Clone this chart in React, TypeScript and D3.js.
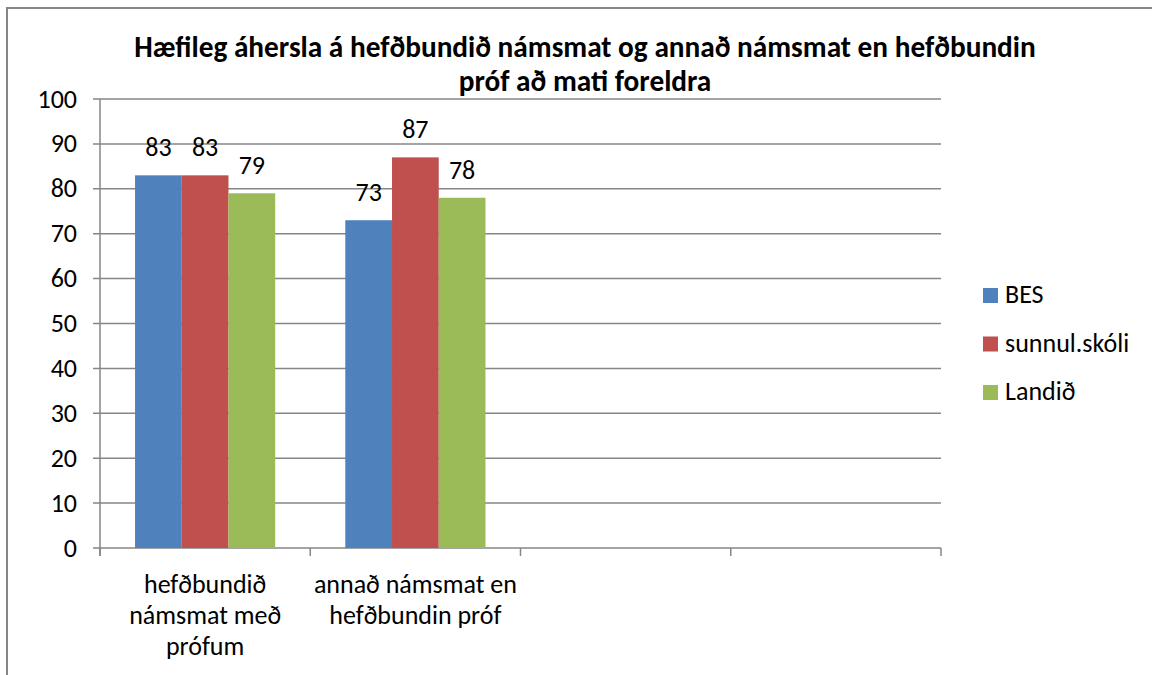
import React from "react";
import * as d3 from "d3";

const categories = ["hefðbundið\nnámsmat með\nprófum", "annað námsmat en\nhefðbundin próf", "", ""];
const seriesNames = ["BES", "sunnul.skóli", "Landið"];
const besValues = [83, 73, null, null];
const sunnulValues = [83, 87, null, null];
const landidValues = [79, 78, null, null];
const seriesColors = ["#4F81BD", "#C0504D", "#9BBB59"];
const yTicks = [0, 10, 20, 30, 40, 50, 60, 70, 80, 90, 100];
const titleLines = [
  "Hæfileg áhersla á hefðbundið námsmat og annað námsmat en hefðbundin",
  "próf að mati foreldra",
];

const W = 1152;
const H = 675;
const FONT = "Carlito, Calibri, Lato, 'Open Sans', sans-serif";
const GRID = "#868686";
const FS = 26;

export default function App() {
  const left = 100, right = 941, top = 99, bottom = 548;
  const x = d3.scaleBand<number>().domain(categories.map((_, i) => i)).range([left, right]);
  const y = d3.scaleLinear().domain([0, 100]).range([bottom, top]);
  const series = [besValues, sunnulValues, landidValues];
  const bw = x.bandwidth() / 4.5;
  const inner = d3.scaleBand<number>().domain([0, 1, 2]).range([0, bw * 3]);
  const boundaries = d3.range(categories.length + 1).map((i) => left + i * x.step());

  return (
    <svg width={W} height={H} style={{ position: "absolute", left: 0, top: 0, background: "#fff" }}>
      <rect x={0} y={0} width={W} height={H} fill="#fff" />
      <rect x={7} y={8} width={W + 20} height={H + 20} fill="none" stroke={GRID} strokeWidth={2} />
      {titleLines.map((t, i) => (
        <text key={i} x={585} y={57 + i * 34} textAnchor="middle" fontFamily={FONT} fontWeight="bold" fontSize={29.3} fill="#000">
          {t}
        </text>
      ))}
      {yTicks.map((v) => (
        <g key={v}>
          <line x1={93} x2={right} y1={y(v)} y2={y(v)} stroke={GRID} strokeWidth={1.5} />
          <text x={77} y={y(v) + 8.5} textAnchor="end" fontFamily={FONT} fontSize={FS} fill="#000">{v}</text>
        </g>
      ))}
      <line x1={left} x2={left} y1={top} y2={bottom + 8} stroke={GRID} strokeWidth={1.5} />
      {boundaries.map((bx, i) => (
        <line key={i} x1={bx} x2={bx} y1={bottom} y2={bottom + 8} stroke={GRID} strokeWidth={1.5} />
      ))}
      {series.map((vals, s) =>
        vals.map((v, i) =>
          v == null ? null : (
            <g key={`${s}-${i}`}>
              <rect
                x={(x(i) as number) + bw * 0.75 + (inner(s) as number)}
                y={y(v)}
                width={inner.bandwidth()}
                height={bottom - y(v)}
                fill={seriesColors[s]}
              />
              <text
                x={(x(i) as number) + bw * 0.75 + (inner(s) as number) + inner.bandwidth() / 2}
                y={y(v) - 19}
                textAnchor="middle"
                fontFamily={FONT}
                fontSize={FS}
                fill="#000"
              >
                {v}
              </text>
            </g>
          )
        )
      )}
      {categories.map((c, i) =>
        c.split("\n").map((line, j) => (
          <text key={`${i}-${j}`} x={(x(i) as number) + x.bandwidth() / 2} y={593 + j * 31} textAnchor="middle" fontFamily={FONT} fontSize={FS} fill="#000">
            {line}
          </text>
        ))
      )}
      {seriesNames.map((n, i) => (
        <g key={n}>
          <rect x={983} y={288 + i * 48.5} width={15} height={15} fill={seriesColors[i]} />
          <text x={1005} y={303 + i * 48.5} fontFamily={FONT} fontSize={FS} fill="#000">{n}</text>
        </g>
      ))}
    </svg>
  );
}
